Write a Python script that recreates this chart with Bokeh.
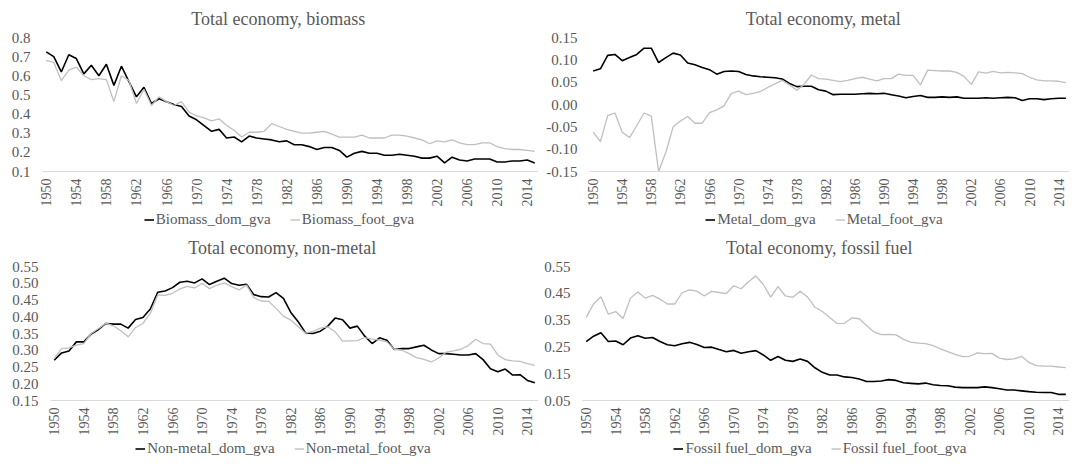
from math import pi
from bokeh.plotting import figure
from bokeh.layouts import column, row
from bokeh.models import Range1d, FixedTicker, PrintfTickFormatter, Legend, LegendItem
from bokeh.embed import file_html
from bokeh.resources import INLINE

years = list(range(1950, 2016))
x_ticks = [1950, 1954, 1958, 1962, 1966, 1970, 1974, 1978, 1982, 1986,
           1990, 1994, 1998, 2002, 2006, 2010, 2014]

biomass_dom = [0.725, 0.70, 0.62, 0.71, 0.69, 0.61, 0.655, 0.60, 0.66, 0.55,
               0.65, 0.57, 0.49, 0.54, 0.455, 0.48, 0.465, 0.45, 0.44, 0.39,
               0.37, 0.34, 0.31, 0.32, 0.275, 0.28, 0.255, 0.285, 0.275, 0.27,
               0.265, 0.255, 0.26, 0.24, 0.24, 0.23, 0.215, 0.225, 0.225, 0.21,
               0.175, 0.195, 0.205, 0.195, 0.195, 0.185, 0.185, 0.19, 0.185, 0.18,
               0.17, 0.17, 0.18, 0.145, 0.175, 0.16, 0.155, 0.165, 0.165, 0.165,
               0.15, 0.15, 0.155, 0.155, 0.16, 0.145]
biomass_foot = [0.68, 0.67, 0.575, 0.63, 0.645, 0.60, 0.58, 0.585, 0.58, 0.465,
                0.60, 0.575, 0.455, 0.53, 0.445, 0.49, 0.465, 0.445, 0.465, 0.41,
                0.39, 0.38, 0.365, 0.375, 0.34, 0.315, 0.28, 0.305, 0.305, 0.31,
                0.35, 0.335, 0.32, 0.31, 0.30, 0.30, 0.305, 0.31, 0.295, 0.28,
                0.28, 0.28, 0.29, 0.275, 0.275, 0.275, 0.29, 0.29, 0.285, 0.275,
                0.265, 0.245, 0.26, 0.255, 0.265, 0.25, 0.24, 0.24, 0.25, 0.25,
                0.23, 0.22, 0.215, 0.215, 0.21, 0.205]

metal_dom = [0.075, 0.08, 0.11, 0.112, 0.098, 0.105, 0.112, 0.126, 0.126, 0.094,
             0.105, 0.115, 0.111, 0.093, 0.089, 0.083, 0.078, 0.068, 0.074, 0.075,
             0.074, 0.067, 0.064, 0.062, 0.061, 0.060, 0.057, 0.047, 0.040, 0.041,
             0.041, 0.033, 0.030, 0.022, 0.023, 0.023, 0.023, 0.024, 0.025, 0.024,
             0.025, 0.022, 0.019, 0.015, 0.018, 0.020, 0.016, 0.016, 0.017, 0.016,
             0.017, 0.014, 0.014, 0.014, 0.015, 0.014, 0.015, 0.016, 0.015, 0.009,
             0.013, 0.013, 0.011, 0.013, 0.014, 0.014]
metal_foot = [-0.062, -0.083, -0.025, -0.019, -0.062, -0.074, -0.047, -0.019, -0.026, -0.150,
              -0.107, -0.050, -0.037, -0.027, -0.042, -0.042, -0.018, -0.012, -0.003, 0.025,
              0.030, 0.022, 0.025, 0.029, 0.038, 0.046, 0.054, 0.044, 0.032, 0.045,
              0.066, 0.058, 0.057, 0.054, 0.051, 0.054, 0.058, 0.061, 0.057, 0.053,
              0.058, 0.058, 0.068, 0.065, 0.065, 0.044, 0.077, 0.076, 0.075, 0.075,
              0.072, 0.063, 0.045, 0.073, 0.070, 0.074, 0.071, 0.072, 0.071, 0.069,
              0.061, 0.055, 0.053, 0.053, 0.052, 0.049]

nonmetal_dom = [0.270, 0.292, 0.298, 0.325, 0.325, 0.348, 0.362, 0.380, 0.378, 0.378,
                0.366, 0.392, 0.398, 0.423, 0.473, 0.477, 0.487, 0.503, 0.506, 0.501,
                0.513, 0.496, 0.506, 0.515, 0.499, 0.494, 0.497, 0.466, 0.460, 0.459,
                0.472, 0.455, 0.413, 0.385, 0.352, 0.350, 0.357, 0.372, 0.396, 0.391,
                0.366, 0.372, 0.342, 0.320, 0.337, 0.330, 0.302, 0.305, 0.305, 0.310,
                0.315, 0.301, 0.290, 0.290, 0.288, 0.286, 0.286, 0.290, 0.272, 0.245,
                0.236, 0.244, 0.226, 0.227, 0.210, 0.203]
nonmetal_foot = [0.275, 0.305, 0.307, 0.315, 0.320, 0.350, 0.365, 0.381, 0.373, 0.358,
                 0.340, 0.368, 0.380, 0.410, 0.465, 0.464, 0.470, 0.483, 0.491, 0.486,
                 0.500, 0.484, 0.494, 0.501, 0.490, 0.480, 0.495, 0.457, 0.447, 0.446,
                 0.425, 0.402, 0.390, 0.370, 0.351, 0.356, 0.366, 0.370, 0.355, 0.327,
                 0.328, 0.329, 0.338, 0.333, 0.330, 0.325, 0.303, 0.300, 0.290, 0.278,
                 0.273, 0.265, 0.277, 0.294, 0.298, 0.303, 0.314, 0.333, 0.320, 0.318,
                 0.286, 0.272, 0.268, 0.267, 0.260, 0.255]

fossil_dom = [0.270, 0.290, 0.303, 0.270, 0.272, 0.258, 0.283, 0.292, 0.282, 0.285,
              0.270, 0.258, 0.254, 0.262, 0.267, 0.259, 0.248, 0.249, 0.240, 0.232,
              0.237, 0.226, 0.232, 0.236, 0.220, 0.200, 0.214, 0.200, 0.196, 0.205,
              0.196, 0.172, 0.155, 0.145, 0.145, 0.138, 0.136, 0.130, 0.121, 0.121,
              0.123, 0.128, 0.125, 0.116, 0.114, 0.112, 0.115, 0.109, 0.106, 0.105,
              0.100, 0.098, 0.098, 0.098, 0.101, 0.098, 0.094, 0.089, 0.089, 0.086,
              0.083, 0.081, 0.080, 0.080, 0.073, 0.073]
fossil_foot = [0.360, 0.410, 0.437, 0.372, 0.382, 0.356, 0.432, 0.455, 0.432, 0.442,
               0.428, 0.410, 0.410, 0.452, 0.463, 0.458, 0.440, 0.457, 0.453, 0.449,
               0.478, 0.467, 0.493, 0.515, 0.483, 0.436, 0.475, 0.440, 0.435, 0.458,
               0.436, 0.398, 0.382, 0.360, 0.337, 0.338, 0.358, 0.355, 0.330, 0.306,
               0.296, 0.297, 0.295, 0.278, 0.268, 0.264, 0.262, 0.255, 0.243, 0.232,
               0.222, 0.214, 0.215, 0.228, 0.225, 0.226, 0.208, 0.203, 0.205, 0.215,
               0.192, 0.180, 0.178, 0.178, 0.175, 0.173]

biomass_ticks = [0.1, 0.2, 0.3, 0.4, 0.5, 0.6, 0.7, 0.8]
metal_ticks = [-0.15, -0.10, -0.05, 0.0, 0.05, 0.10, 0.15]
nonmetal_ticks = [0.15, 0.20, 0.25, 0.30, 0.35, 0.40, 0.45, 0.50, 0.55]
fossil_ticks = [0.05, 0.15, 0.25, 0.35, 0.45, 0.55]

FONT = "Liberation Serif"
TXT = "#595959"
DOM_COLOR = "#000000"
FOOT_COLOR = "#bfbfbf"
DOM_W = 1.6
FOOT_W = 1.3

# Times / Liberation Serif advance widths (1/1000 em), for centring texts
CW = {' ': 250, '_': 500, ',': 250, '-': 333, 'a': 444, 'b': 500, 'c': 444, 'd': 500,
      'e': 444, 'f': 333, 'g': 500, 'i': 278, 'l': 278, 'm': 778, 'n': 500, 'o': 500,
      's': 389, 't': 278, 'u': 500, 'v': 500, 'y': 500, 'B': 667, 'F': 556, 'M': 889,
      'N': 722, 'T': 611}


def tw(s, size):
    return sum(CW.get(c, 500) for c in s) * size / 1000.0


def make(title, dom, foot, labels, lo, hi, ticks, fmt, width, left, x0, cx):
    top, frame_h, bottom, leg_h = 37, 135, 37, 20
    p = figure(width=width, height=top + frame_h + bottom,
               x_range=Range1d(1949.5, 2015.5), y_range=Range1d(lo, hi),
               output_backend="svg", toolbar_location=None,
               min_border_left=left, min_border_right=0, min_border_top=top,
               min_border_bottom=bottom)
    center = cx - x0 - left  # text centre, measured from the frame's left edge
    p.title.text = title
    p.title.text_font = FONT
    p.title.text_font_size = "18px"
    p.title.text_font_style = "normal"
    p.title.text_color = TXT
    p.title.align = "left"
    p.title.offset = center - tw(title, 18) / 2.0
    p.title.vertical_align = "top"
    p.title.standoff = 14

    p.outline_line_color = None
    p.xgrid.visible = False
    p.ygrid.visible = False

    xa = p.xaxis[0]
    xa.ticker = FixedTicker(ticks=x_ticks)
    xa.major_label_orientation = pi / 2
    xa.major_label_text_font = FONT
    xa.major_label_text_font_size = "14px"
    xa.major_label_text_color = TXT
    xa.major_label_standoff = 7
    xa.axis_line_color = "#d9d9d9"
    xa.axis_line_width = 1
    xa.major_tick_line_color = None
    xa.minor_tick_line_color = None
    xa.major_tick_out = 0
    xa.major_tick_in = 0
    xa.minor_tick_out = 0
    xa.minor_tick_in = 0

    ya = p.yaxis[0]
    ya.ticker = FixedTicker(ticks=ticks)
    ya.formatter = PrintfTickFormatter(format=fmt)
    ya.major_label_text_font = FONT
    ya.major_label_text_font_size = "15px"
    ya.major_label_text_color = TXT
    ya.major_label_standoff = 12
    ya.axis_line_color = None
    ya.major_tick_line_color = None
    ya.minor_tick_line_color = None
    ya.major_tick_out = 0
    ya.major_tick_in = 0
    ya.minor_tick_out = 0
    ya.minor_tick_in = 0

    p.line(years, dom, line_color=DOM_COLOR, line_width=DOM_W)
    p.line(years, foot, line_color=FOOT_COLOR, line_width=FOOT_W)

    # legend strip below the chart (series kept out of its visible range)
    q = figure(width=width, height=leg_h, x_range=Range1d(1949.5, 2015.5),
               y_range=Range1d(10, 11), output_backend="svg", toolbar_location=None,
               x_axis_type=None, y_axis_type=None, min_border_left=left,
               min_border_right=0, min_border_top=0, min_border_bottom=0)
    q.outline_line_color = None
    q.xgrid.visible = False
    q.ygrid.visible = False
    k0 = q.line(years, dom, line_color=DOM_COLOR, line_width=DOM_W)
    k1 = q.line(years, foot, line_color=FOOT_COLOR, line_width=FOOT_W)
    gw, ls, sp = 10, 2, 19
    lw = sum(gw + ls + tw(l, 15) for l in labels) + sp
    leg = Legend(items=[LegendItem(label=labels[0], renderers=[k0]),
                        LegendItem(label=labels[1], renderers=[k1])],
                 orientation="horizontal", location=(center - lw / 2.0, 1),
                 glyph_width=gw, glyph_height=17, label_height=17, label_standoff=ls,
                 spacing=sp, padding=0, margin=0, border_line_alpha=0,
                 background_fill_alpha=0, label_text_font=FONT,
                 label_text_font_size="15px", label_text_color=TXT)
    q.add_layout(leg, "center")
    return column(p, q, spacing=0)


c1 = make("Total economy, biomass", biomass_dom, biomass_foot,
          ["Biomass_dom_gva", "Biomass_foot_gva"], 0.1, 0.8, biomass_ticks, "%.1f",
          538, 42, 0, 279)
c2 = make("Total economy, metal", metal_dom, metal_foot,
          ["Metal_dom_gva", "Metal_foot_gva"], -0.15, 0.15, metal_ticks, "%.2f",
          531, 51, 538, 824)
c3 = make("Total economy, non-metal", nonmetal_dom, nonmetal_foot,
          ["Non-metal_dom_gva", "Non-metal_foot_gva"], 0.15, 0.55, nonmetal_ticks, "%.2f",
          538, 50, 0, 283)
c4 = make("Total economy, fossil fuel", fossil_dom, fossil_foot,
          ["Fossil fuel_dom_gva", "Fossil fuel_foot_gva"], 0.05, 0.55, fossil_ticks, "%.2f",
          531, 44, 538, 820)

layout = column(row(c1, c2, spacing=0), row(c3, c4, spacing=0), spacing=0)
open("out.html", "w").write(file_html(layout, INLINE))
